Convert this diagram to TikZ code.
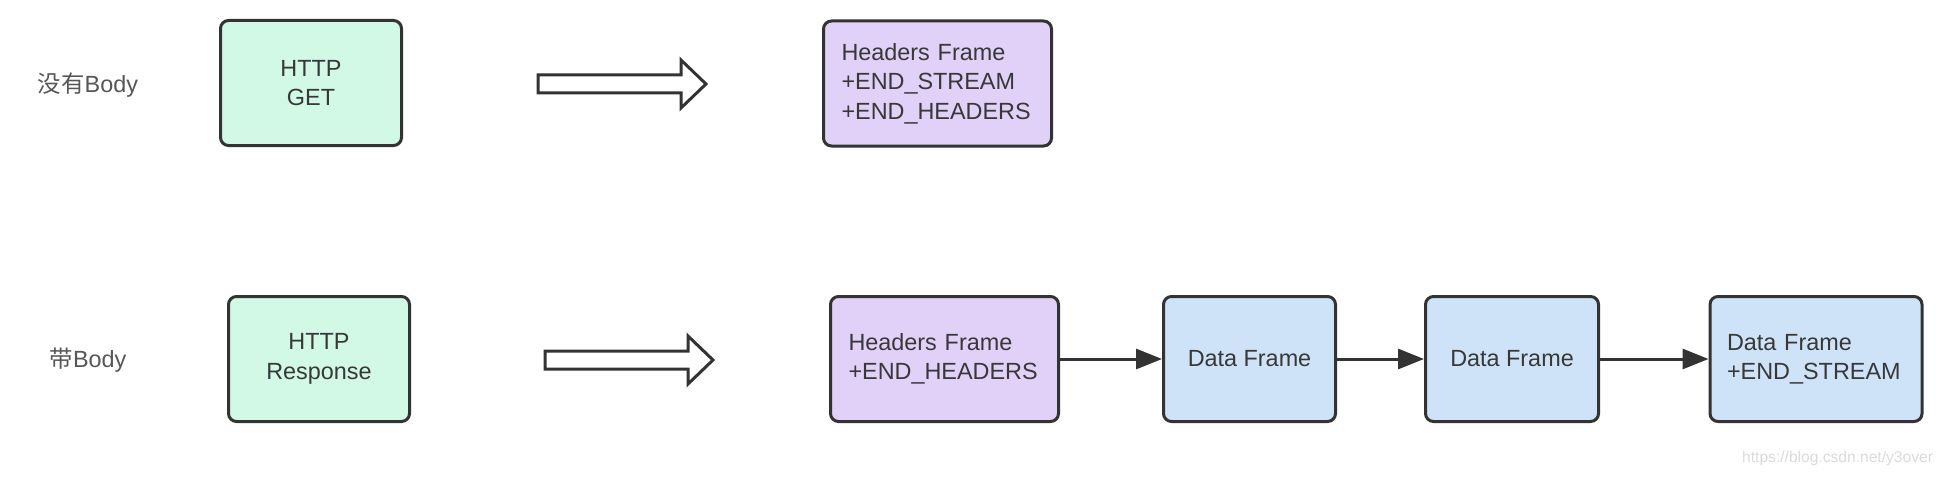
\documentclass[tikz,border=0pt]{standalone}
\usepackage{fontspec}
\setmainfont{Liberation Sans}
\newfontfamily\cjk{Noto Sans CJK SC}
\usetikzlibrary{arrows.meta}
\definecolor{txt}{HTML}{383838}
\definecolor{bord}{HTML}{333333}
\definecolor{mint}{HTML}{D2F8E6}
\definecolor{lilac}{HTML}{E1D0F8}
\definecolor{skyb}{HTML}{CFE3F8}
\definecolor{wmark}{HTML}{DADADA}
\tikzset{
  box/.style={draw=bord, line width=1.5pt, rounded corners=4pt, text=txt,
    font=\fontsize{11.7}{14.7}\selectfont, minimum height=62.5pt, inner sep=0pt},
  cbox/.style={box, align=center},
  lbox/.style={box, align=left, inner xsep=9pt},
  rowlabel/.style={text=txt!85, font=\fontsize{11.7}{14}\selectfont},
  hollow/.style={draw=bord, line width=1.5pt, fill=white, line join=miter},
  conn/.style={draw=bord, line width=1.5pt, -{Triangle[length=13pt,width=10pt]}}
}
\begin{document}
\begin{tikzpicture}[x=0.5pt,y=-0.5pt]
\useasboundingbox (0,0) rectangle (1952,476);
% row labels
\node[rowlabel] (l1) at (88,85) {{\cjk 没有}Body};
\node[rowlabel] (l2) at (88,360) {{\cjk 带}Body};
% top row
\node[cbox, fill=mint, minimum width=90.5pt] (get) at (311,83) {HTTP\\GET};
\node[lbox, fill=lilac, text width=96pt] (hdr1) at (937.5,83.5) {Headers Frame\\+END\_STREAM\\+END\_HEADERS};
% bottom row
\node[cbox, fill=mint, minimum width=90.5pt] (resp) at (319,359) {HTTP\\Response};
\node[lbox, fill=lilac, text width=96pt] (hdr2) at (944.5,359) {Headers Frame\\+END\_HEADERS};
\node[cbox, fill=skyb, minimum width=86pt] (d1) at (1249.5,359) {Data Frame};
\node[cbox, fill=skyb, minimum width=86.5pt] (d2) at (1512,359) {Data Frame};
\node[lbox, fill=skyb, text width=89pt, inner xsep=8.5pt] (d3) at (1816,359) {Data Frame\\+END\_STREAM};
% hollow arrows
\draw[hollow] (538,75) -- (681,75) -- (681,60) -- (706,84) -- (681,108) -- (681,93) -- (538,93) -- cycle;
\draw[hollow] (545,351) -- (688,351) -- (688,336) -- (713,360) -- (688,384) -- (688,369) -- (545,369) -- cycle;
% connectors
\draw[conn] (hdr2.east) -- (d1.west);
\draw[conn] (d1.east) -- (d2.west);
\draw[conn] (d2.east) -- (d3.west);
% watermark
\node[text=wmark, font=\fontsize{7.8}{9}\selectfont, anchor=east] (wm) at (1940,458) {https://blog.csdn.net/y3over};
\end{tikzpicture}
\end{document}
